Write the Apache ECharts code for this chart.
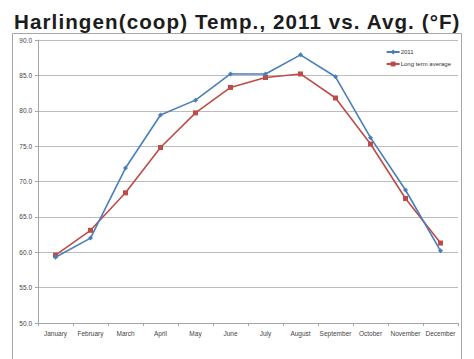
<!DOCTYPE html>
<html><head><meta charset="utf-8">
<script src="https://cdn.jsdelivr.net/npm/echarts@6/dist/echarts.min.js"></script>
<style>html,body{margin:0;padding:0;background:#fff}#c{width:474px;height:359px}
#c text[style*="20.6px"]{letter-spacing:1.08px}</style>
</head><body><div id="c"></div>
<script>
const months = ["January","February","March","April","May","June","July","August","September","October","November","December"];
const temp2011 = [59.3, 62.0, 71.9, 79.4, 81.5, 85.2, 85.2, 87.9, 84.8, 76.2, 68.8, 60.2];
const longTermAvg = [59.6, 63.1, 68.4, 74.8, 79.7, 83.3, 84.7, 85.2, 81.8, 75.3, 67.6, 61.3];
const seriesNames = ["2011", "Long term average"];
const titleText = "Harlingen(coop) Temp., 2011 vs. Avg. (°F)";

const chart = echarts.init(document.getElementById('c'), null, {renderer: 'svg'});
chart.setOption({
  animation: false,
  backgroundColor: '#fff',
  title: {
    text: titleText, left: 9, top: 6,
    textStyle: {fontFamily: 'Liberation Sans, Arial, sans-serif', fontWeight: 'bold', fontSize: 20.6, color: '#1c1c1c'}
  },
  graphic: [{
    type: 'rect', shape: {x: 12.5, y: 33.5, width: 449, height: 340},
    style: {fill: 'none', stroke: '#a6a6a6', lineWidth: 1}, silent: true, z: -1
  }],
  legend: {
    orient: 'vertical', right: 18, top: 44, itemGap: 6, itemWidth: 13, itemHeight: 6,
    textStyle: {fontSize: 6, color: '#333', fontFamily: 'Liberation Sans, Arial, sans-serif', padding: [0,0,0,-4]},
    data: seriesNames
  },
  grid: {left: 38, right: 16, top: 40, bottom: 36, containLabel: false},
  xAxis: {
    type: 'category', data: months, boundaryGap: true,
    axisLine: {lineStyle: {color: '#a6a6a6'}},
    axisTick: {show: true, length: 3, lineStyle: {color: '#a6a6a6'}},
    axisLabel: {fontSize: 6.5, color: '#444', margin: 7, interval: 0, fontFamily: 'Liberation Sans, Arial, sans-serif'}
  },
  yAxis: {
    type: 'value', min: 50, max: 90, interval: 5,
    axisLine: {show: true, lineStyle: {color: '#a6a6a6'}},
    axisTick: {show: true, length: 3, lineStyle: {color: '#a6a6a6'}},
    splitLine: {lineStyle: {color: '#bcbcbc', width: 1}},
    axisLabel: {fontSize: 6.5, color: '#444', margin: 6, formatter: v => v.toFixed(1), fontFamily: 'Liberation Sans, Arial, sans-serif'}
  },
  series: [
    {name: seriesNames[0], type: 'line', data: temp2011, symbol: 'diamond', symbolSize: 5,
     lineStyle: {color: '#4a7ebb', width: 1.6}, itemStyle: {color: '#4a7ebb'}, z: 3},
    {name: seriesNames[1], type: 'line', data: longTermAvg, symbol: 'rect', symbolSize: 5,
     lineStyle: {color: '#be4b48', width: 1.6}, itemStyle: {color: '#be4b48'}, z: 2}
  ]
});
</script></body></html>
